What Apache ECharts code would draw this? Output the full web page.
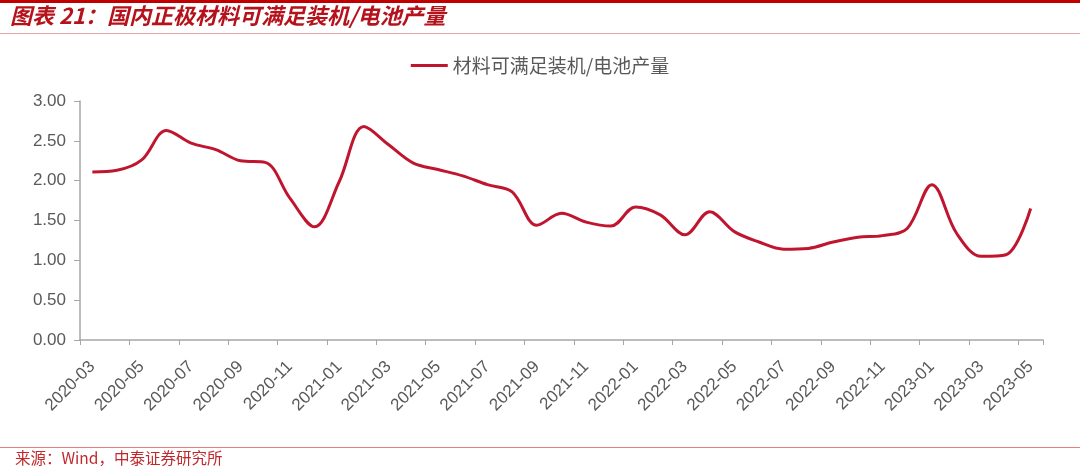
<!DOCTYPE html>
<html>
<head>
<meta charset="utf-8">
<script src="https://cdn.jsdelivr.net/npm/echarts@6/dist/echarts.min.js"></script>
<style>
html,body{margin:0;padding:0;background:#fff;}
#chart{width:1080px;height:471px;}
</style>
</head>
<body>
<div id="chart"></div>
<script>
const categories = ['2020-03','2020-04','2020-05','2020-06','2020-07','2020-08','2020-09','2020-10','2020-11','2020-12',
  '2021-01','2021-02','2021-03','2021-04','2021-05','2021-06','2021-07','2021-08','2021-09','2021-10','2021-11','2021-12',
  '2022-01','2022-02','2022-03','2022-04','2022-05','2022-06','2022-07','2022-08','2022-09','2022-10','2022-11','2022-12',
  '2023-01','2023-02','2023-03','2023-04','2023-05'];
const seriesName = '材料可满足装机/电池产量';
const values = [2.11,2.13,2.26,2.63,2.47,2.39,2.25,2.23,1.78,1.42,
  1.99,2.68,2.45,2.22,2.14,2.06,1.95,1.86,1.44,1.59,1.48,1.43,
  1.67,1.57,1.32,1.61,1.36,1.23,1.14,1.15,1.23,1.29,1.31,1.40,
  1.95,1.34,1.05,1.07,1.65];
const titleText = '图表 21：国内正极材料可满足装机/电池产量';
const sourceText = '来源：Wind，中泰证券研究所';

const chart = echarts.init(document.getElementById('chart'), null, {renderer:'canvas'});
const font = '"Liberation Sans", Arial, "Noto Sans CJK SC", sans-serif';
chart.setOption({
  animation:false,
  backgroundColor:'#fff',
  graphic:[
    {type:'rect', shape:{x:0,y:0,width:1080,height:3}, style:{fill:'#C00000'}},
    {type:'text', left:10, top:5, style:{text:titleText, fill:'#B5121B', font:'italic bold 22px "Noto Sans CJK SC", sans-serif'}},
    {type:'rect', shape:{x:0,y:33,width:1080,height:1}, style:{fill:'#E7A4A4'}},
    {type:'rect', shape:{x:0,y:447,width:1080,height:1}, style:{fill:'#E58080'}},
    {type:'text', left:15, top:450, style:{text:sourceText, fill:'#C0292B', font:'15.5px "Noto Sans CJK SC", sans-serif'}}
  ],
  legend:{
    top:51, left:'center',
    icon:'rect', itemWidth:37, itemHeight:3, itemGap:10,
    textStyle:{color:'#595959', fontSize:19, fontFamily:'"Noto Sans CJK SC", sans-serif'},
    data:[seriesName]
  },
  grid:{left:80, right:37, top:101, bottom:131, containLabel:false},
  xAxis:{
    type:'category', data:categories, boundaryGap:true,
    axisLine:{lineStyle:{color:'#A6A6A6', width:1.5}},
    axisTick:{show:true, length:5, interval:1, lineStyle:{color:'#A6A6A6'}},
    axisLabel:{interval:1, rotate:45, margin:24, color:'#595959', fontSize:17, fontFamily:font}
  },
  yAxis:{
    type:'value', min:0, max:3, interval:0.5,
    axisLine:{show:true, lineStyle:{color:'#A6A6A6', width:1.5}},
    axisTick:{show:true, length:6, lineStyle:{color:'#A6A6A6'}},
    splitLine:{show:false},
    axisLabel:{color:'#595959', fontSize:17, margin:14, fontFamily:font, formatter:v=>v.toFixed(2)}
  },
  series:[{
    name:seriesName, type:'line', data:values, smooth:0.35, symbol:'none',
    lineStyle:{color:'#C0152F', width:3}, itemStyle:{color:'#C0152F'}
  }]
});
</script>
</body>
</html>
